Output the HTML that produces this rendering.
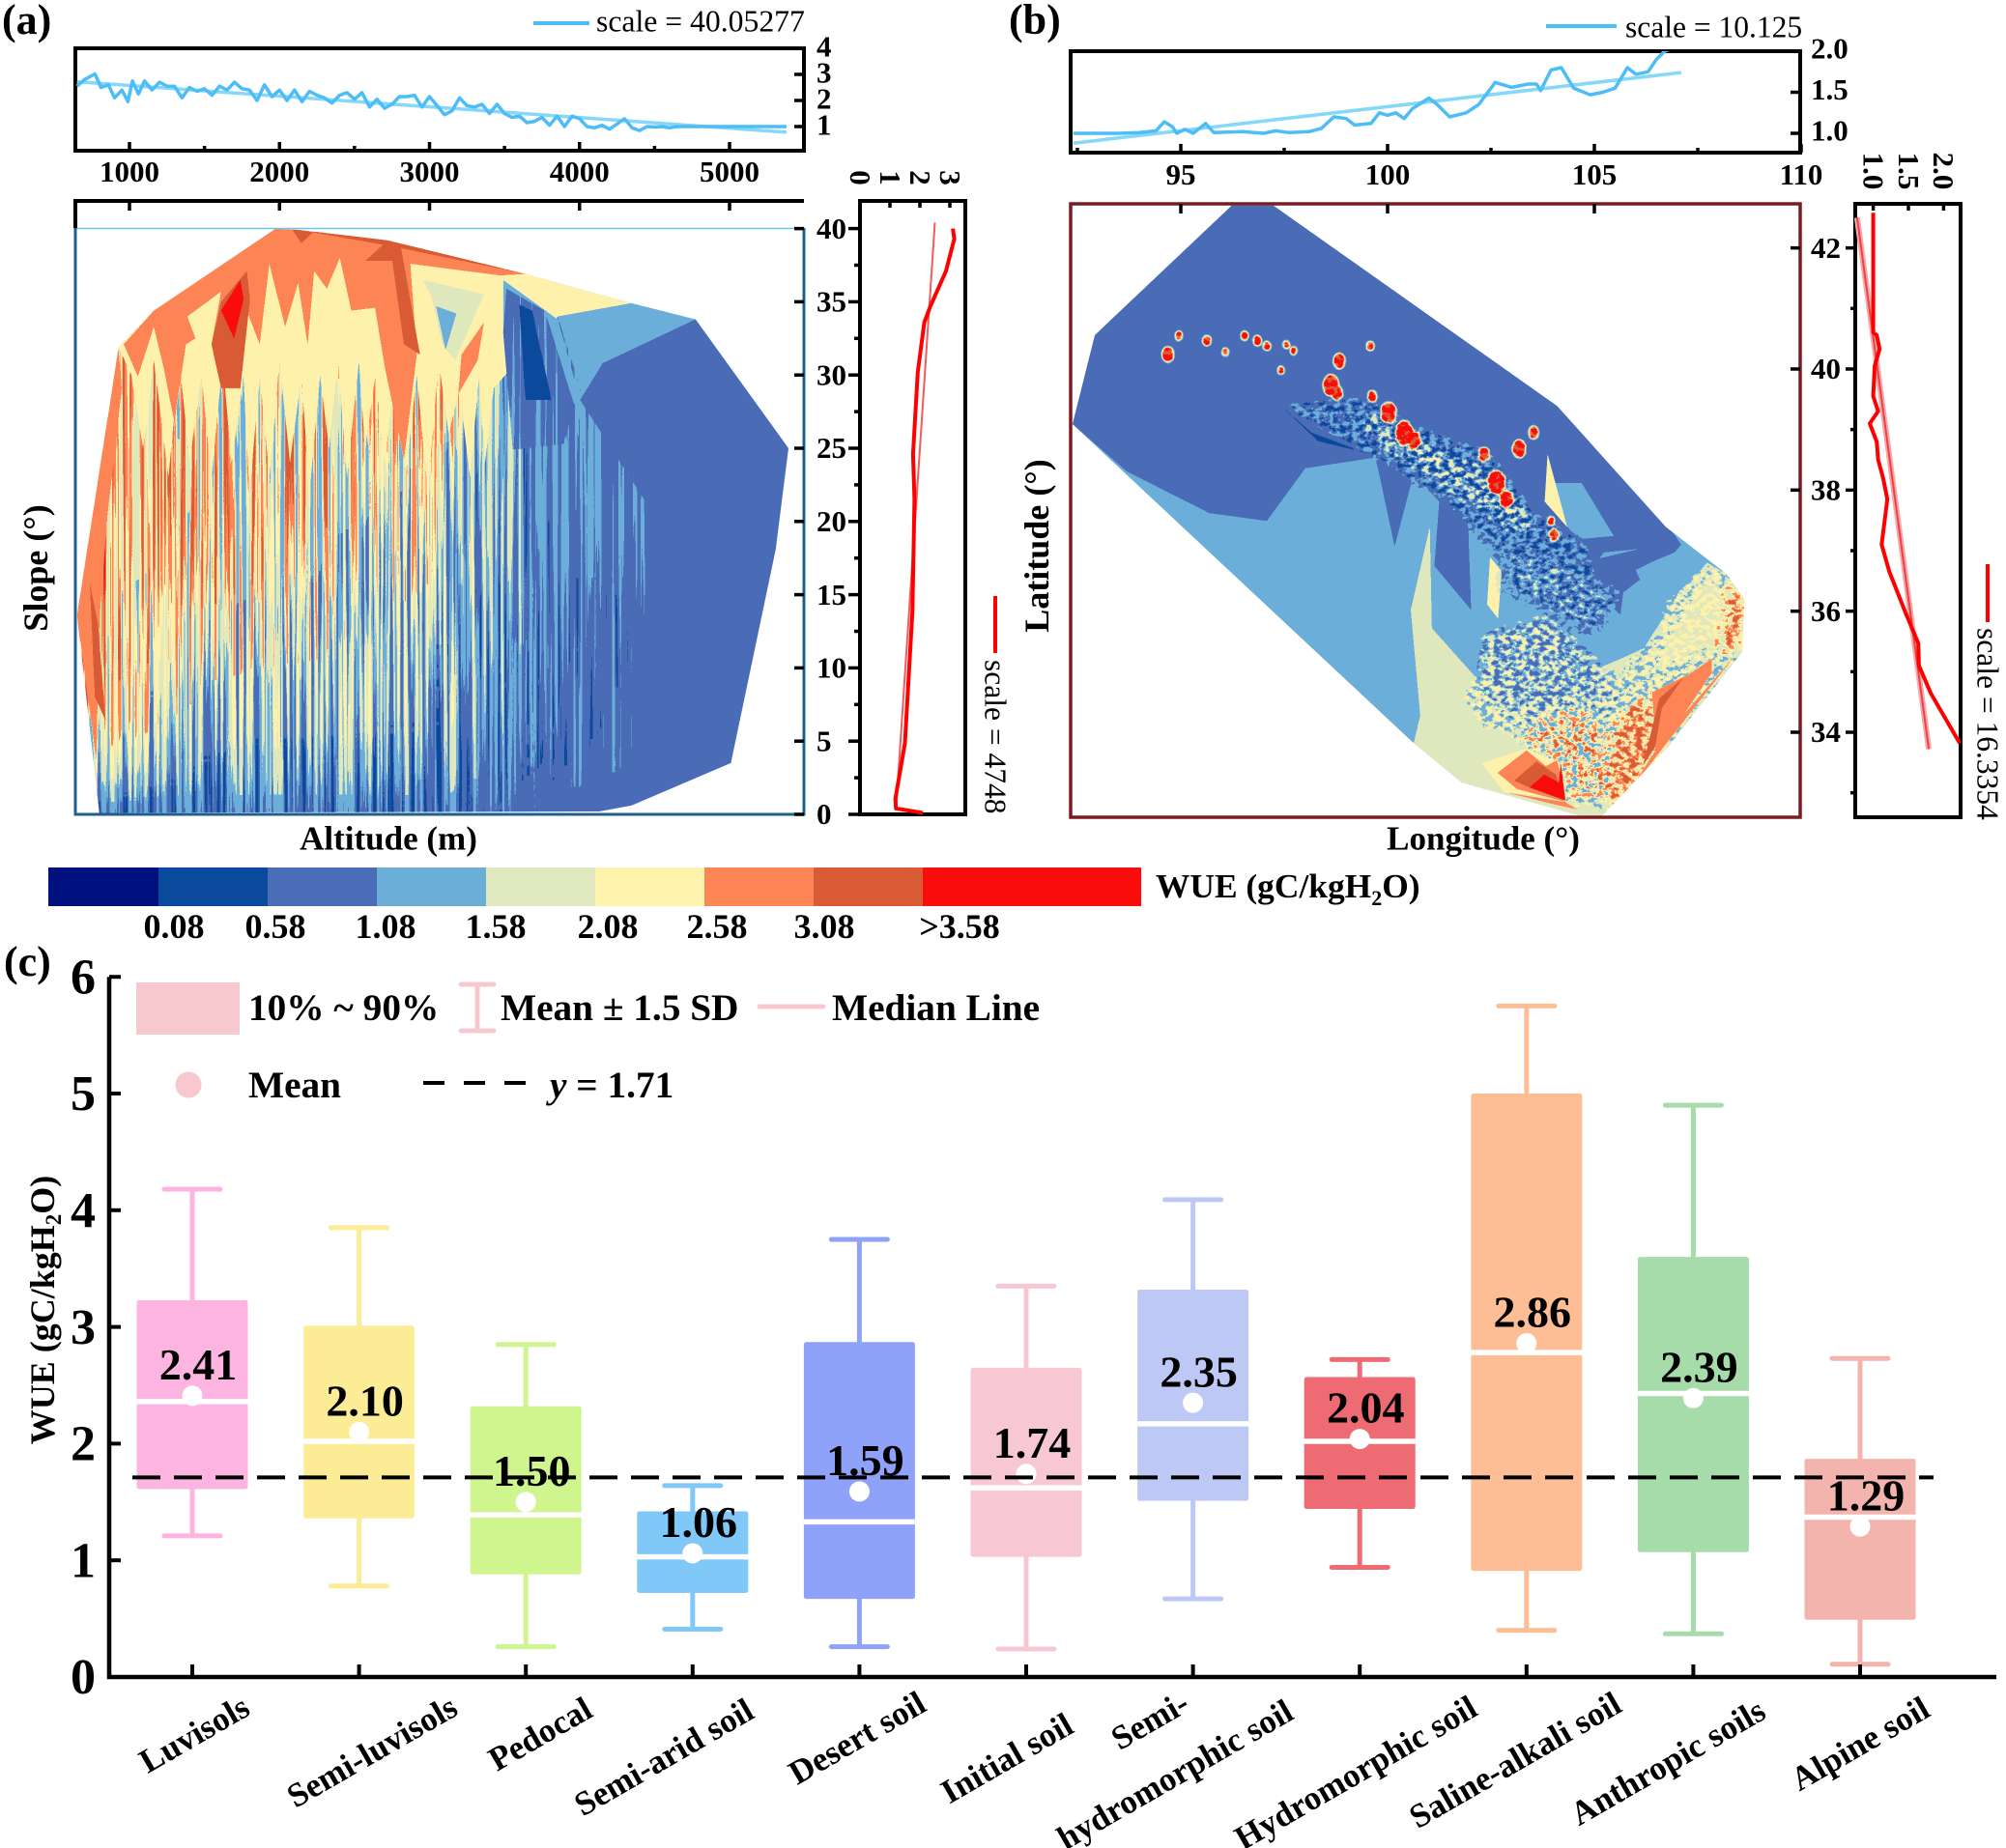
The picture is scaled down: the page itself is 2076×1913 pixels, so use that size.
<!DOCTYPE html>
<html>
<head>
<meta charset="utf-8">
<title>WUE charts</title>
<style>
html,body{margin:0;padding:0;background:#fff;}
svg{display:block;}
text{font-family:"Liberation Serif",serif;fill:#000;}
.b{font-weight:bold;}
</style>
</head>
<body>
<svg id="fig" xmlns="http://www.w3.org/2000/svg" width="2076" height="1913" viewBox="0 0 2076 1913">
<defs>
  <filter id="gridBlur" x="-5%" y="-5%" width="110%" height="110%" color-interpolation-filters="sRGB">
    <feGaussianBlur stdDeviation="14 18"/>
  </filter>
  <filter id="beltBlur" x="-5%" y="-5%" width="110%" height="110%" color-interpolation-filters="sRGB">
    <feGaussianBlur stdDeviation="6"/>
  </filter>
  <filter id="spotBlur" filterUnits="userSpaceOnUse" x="1108" y="211" width="755" height="635" color-interpolation-filters="sRGB">
    <feGaussianBlur stdDeviation="1.3"/>
  </filter>
  <filter id="contourA" filterUnits="userSpaceOnUse" x="78" y="208" width="754" height="636" color-interpolation-filters="sRGB">
    <feColorMatrix in="SourceGraphic" result="F" values="1 0 0 0 0 1 0 0 0 0 1 0 0 0 0 0 0 0 0 1"/>
    <feColorMatrix in="SourceGraphic" result="A" values="0 1 0 0 0 0 1 0 0 0 0 1 0 0 0 0 0 0 0 1"/>
    <feColorMatrix in="SourceGraphic" result="Y" values="0 -.25 0 0 1 0 -.25 0 0 1 0 -.25 0 0 1 0 0 0 0 1"/>
    <feTurbulence type="fractalNoise" baseFrequency="0.27 0.003" numOctaves="2" seed="7" result="T"/>
    <feColorMatrix in="T" result="N" values="3 0 0 0 -1 3 0 0 0 -1 3 0 0 0 -1 0 0 0 0 1"/>
    <feComposite in="A" in2="N" operator="arithmetic" k1="1" k2="0" k3="0" k4="0" result="X"/>
    <feComposite in="F" in2="X" operator="arithmetic" k1="0" k2=".5" k3=".5" k4="0" result="S"/>
    <feComposite in="S" in2="Y" operator="arithmetic" k1="0" k2="1" k3="1" k4="-.7778" result="W"/>
    <feComponentTransfer in="W">
      <feFuncR type="discrete" tableValues="0 0 0 0 0 .04 .294 .42 .878 .996 .996 .851 .973 .973 .973 .973 .973 .973"/>
      <feFuncG type="discrete" tableValues=".063 .063 .063 .063 .063 .29 .424 .686 .91 .949 .522 .357 .051 .051 .051 .051 .051 .051"/>
      <feFuncB type="discrete" tableValues=".486 .486 .486 .486 .486 .61 .718 .851 .741 .678 .337 .212 .047 .047 .047 .047 .047 .047"/>
    </feComponentTransfer>
  </filter>
  <filter id="contourB" filterUnits="userSpaceOnUse" x="1108" y="211" width="755" height="635" color-interpolation-filters="sRGB">
    <feColorMatrix in="SourceGraphic" result="F" values="1 0 0 0 0 1 0 0 0 0 1 0 0 0 0 0 0 0 0 1"/>
    <feColorMatrix in="SourceGraphic" result="A" values="0 1 0 0 0 0 1 0 0 0 0 1 0 0 0 0 0 0 0 1"/>
    <feColorMatrix in="SourceGraphic" result="Y" values="0 -.25 0 0 1 0 -.25 0 0 1 0 -.25 0 0 1 0 0 0 0 1"/>
    <feTurbulence type="fractalNoise" baseFrequency="0.15 0.19" numOctaves="3" seed="11" result="T"/>
    <feColorMatrix in="T" result="N" values="3 0 0 0 -1 3 0 0 0 -1 3 0 0 0 -1 0 0 0 0 1"/>
    <feComposite in="A" in2="N" operator="arithmetic" k1="1" k2="0" k3="0" k4="0" result="X"/>
    <feComposite in="F" in2="X" operator="arithmetic" k1="0" k2=".5" k3=".5" k4="0" result="S"/>
    <feComposite in="S" in2="Y" operator="arithmetic" k1="0" k2="1" k3="1" k4="-.7778" result="W"/>
    <feComponentTransfer in="W">
      <feFuncR type="discrete" tableValues="0 0 0 0 0 .04 .294 .42 .878 .996 .996 .851 .973 .973 .973 .973 .973 .973"/>
      <feFuncG type="discrete" tableValues=".063 .063 .063 .063 .063 .29 .424 .686 .91 .949 .522 .357 .051 .051 .051 .051 .051 .051"/>
      <feFuncB type="discrete" tableValues=".486 .486 .486 .486 .486 .61 .718 .851 .741 .678 .337 .212 .047 .047 .047 .047 .047 .047"/>
    </feComponentTransfer>
  </filter>
  <clipPath id="hullClipA"><polygon id="hullPolyA" points="0,0"/></clipPath>
  <clipPath id="hullClipB"><polygon id="hullPolyB" points="0,0"/></clipPath>
  <clipPath id="topClipA"><rect x="78" y="50" width="754" height="106"/></clipPath>
  <clipPath id="topClipB"><rect x="1108" y="53" width="755" height="105"/></clipPath>
</defs>

<!-- panel letters -->
<text class="b" x="2" y="35" font-size="44">(a)</text>
<text class="b" x="1044" y="35" font-size="44">(b)</text>
<text class="b" x="4" y="1010" font-size="44">(c)</text>

<!-- panel a -->
<g clip-path="url(#hullClipA)">
  <g id="fieldA" filter="url(#contourA)"></g>
</g>
<line x1="78" y1="236.5" x2="832" y2="236.5" stroke="#6cc6ea" stroke-width="1.5"/>
<path d="M78 236V843H832V236" fill="none" stroke="#1f5f8c" stroke-width="3"/>
<path d="M78 236V208H832" fill="none" stroke="#000" stroke-width="4"/>
<rect x="78" y="50" width="754" height="106" fill="none" stroke="#000" stroke-width="4"/>
<rect x="890" y="208" width="109" height="635" fill="none" stroke="#000" stroke-width="4"/>
<g id="panelA"></g>
<text class="b" x="402" y="868" dy=".33em" font-size="35" text-anchor="middle">Altitude (m)</text>
<text class="b" transform="translate(37,588) rotate(-90)" dy=".33em" font-size="36" text-anchor="middle">Slope (°)</text>
<line x1="552" y1="24" x2="610" y2="24" stroke="#4dbdf7" stroke-width="4"/>
<text x="617" y="22" dy=".33em" font-size="31.7">scale = 40.05277</text>
<line x1="1030" y1="617" x2="1030" y2="676" stroke="#f00" stroke-width="4"/>
<text transform="translate(1030,683) rotate(90)" dy=".33em" font-size="31.5">scale = 4748</text>

<!-- panel b -->
<g clip-path="url(#hullClipB)">
  <g id="fieldB" filter="url(#contourB)"></g>
</g>
<rect x="1108" y="211" width="755" height="635" fill="none" stroke="#7a1c22" stroke-width="3.5"/>
<rect x="1108" y="53" width="755" height="105" fill="none" stroke="#000" stroke-width="4"/>
<rect x="1920" y="211" width="109" height="635" fill="none" stroke="#000" stroke-width="4"/>
<g id="panelB"></g>
<text class="b" x="1535" y="868" dy=".33em" font-size="35" text-anchor="middle">Longitude (°)</text>
<text class="b" transform="translate(1073,565) rotate(-90)" dy=".33em" font-size="36" text-anchor="middle">Latitude (°)</text>
<line x1="1600" y1="27" x2="1673" y2="27" stroke="#4dbdf7" stroke-width="4"/>
<text x="1682" y="28" dy=".33em" font-size="31.5">scale = 10.125</text>
<line x1="2057" y1="584" x2="2057" y2="644" stroke="#f00" stroke-width="4"/>
<text transform="translate(2057,650) rotate(90)" dy=".33em" font-size="31.5">scale = 16.3354</text>

<!-- colour bar -->
<g>
  <rect x="50" y="898" width="114" height="40" fill="#00107c"/>
  <rect x="164" y="898" width="113" height="40" fill="#0a4a9c"/>
  <rect x="277" y="898" width="113" height="40" fill="#4b6cb7"/>
  <rect x="390" y="898" width="113" height="40" fill="#6bafd9"/>
  <rect x="503" y="898" width="113" height="40" fill="#e0e8bd"/>
  <rect x="616" y="898" width="113" height="40" fill="#fef2ad"/>
  <rect x="729" y="898" width="113" height="40" fill="#fe8556"/>
  <rect x="842" y="898" width="113" height="40" fill="#d95b36"/>
  <rect x="955" y="898" width="226" height="40" fill="#f80d0c"/>
  <g class="b" font-size="36" text-anchor="middle">
    <text class="b" x="180" y="959" dy=".33em">0.08</text>
    <text class="b" x="285" y="959" dy=".33em">0.58</text>
    <text class="b" x="399" y="959" dy=".33em">1.08</text>
    <text class="b" x="513" y="959" dy=".33em">1.58</text>
    <text class="b" x="629" y="959" dy=".33em">2.08</text>
    <text class="b" x="742" y="959" dy=".33em">2.58</text>
    <text class="b" x="853" y="959" dy=".33em">3.08</text>
    <text class="b" x="993" y="959" dy=".33em">&gt;3.58</text>
  </g>
  <text class="b" x="1196" y="929" font-size="35.4">WUE (gC/kgH<tspan font-size="22" dy="8">2</tspan><tspan dy="-8">O)</tspan></text>
</g>

<!-- panel c -->
<g id="panelC"></g>
<text class="b" transform="translate(56,1356) rotate(-90)" font-size="36" text-anchor="middle">WUE (gC/kgH<tspan font-size="23" dy="7">2</tspan><tspan dy="-7">O)</tspan></text>

<g>
  <rect x="141" y="1017" width="107" height="54" fill="#f8c8cf"/>
  <text class="b" x="257" y="1043" dy=".33em" font-size="39.3">10% ~ 90%</text>
  <path d="M494 1019V1067M477 1019H511M477 1067H511" stroke="#f8c8cf" stroke-width="5" fill="none" stroke-linecap="round"/>
  <text class="b" x="518" y="1043" dy=".33em" font-size="39.3">Mean ± 1.5 SD</text>
  <line x1="786" y1="1042" x2="852" y2="1042" stroke="#f8c8cf" stroke-width="5" stroke-linecap="round"/>
  <text class="b" x="861" y="1043" dy=".33em" font-size="39.3">Median Line</text>
  <circle cx="195" cy="1123" r="13.5" fill="#f8c8cf"/>
  <text class="b" x="257" y="1123" dy=".33em" font-size="39.3">Mean</text>
  <line x1="438" y1="1121" x2="546" y2="1121" stroke="#000" stroke-width="4" stroke-dasharray="22 20"/>
  <text class="b" x="569" y="1123" dy=".33em" font-size="39.3"><tspan font-style="italic">y</tspan> = 1.71</text>
</g>

<g font-size="35">
  <text class="b" transform="translate(201,1795) rotate(-30)" dy=".33em" text-anchor="middle">Luvisols</text>
  <text class="b" transform="translate(385,1813) rotate(-30)" dy=".33em" text-anchor="middle">Semi-luvisols</text>
  <text class="b" transform="translate(559,1795) rotate(-30)" dy=".33em" text-anchor="middle">Pedocal</text>
  <text class="b" transform="translate(687,1819) rotate(-30)" dy=".33em" text-anchor="middle">Semi-arid soil</text>
  <text class="b" transform="translate(887,1799) rotate(-30)" dy=".33em" text-anchor="middle">Desert soil</text>
  <text class="b" transform="translate(1042,1820) rotate(-30)" dy=".33em" text-anchor="middle">Initial soil</text>
  <text class="b" transform="translate(1190,1781) rotate(-30)" dy=".33em" text-anchor="middle">Semi-</text>
  <text class="b" transform="translate(1216,1837) rotate(-30)" dy=".33em" text-anchor="middle">hydromorphic soil</text>
  <text class="b" transform="translate(1403,1835) rotate(-30)" dy=".33em" text-anchor="middle">Hydromorphic soil</text>
  <text class="b" transform="translate(1568,1822) rotate(-30)" dy=".33em" text-anchor="middle">Saline-alkali soil</text>
  <text class="b" transform="translate(1726,1824) rotate(-30)" dy=".33em" text-anchor="middle">Anthropic soils</text>
  <text class="b" transform="translate(1925,1805) rotate(-30)" dy=".33em" text-anchor="middle">Alpine soil</text>
</g>

<script>
// ---------- panel (a) data ----------
const altitudeSeries = [650,700,770,810,860,900,950,990,1020,1060,1100,1150,1200,1250,1300,1350,1400,1450,1500,1550,1600,1650,1700,1750,1800,1850,1900,1950,2000,2050,2100,2150,2200,2250,2300,2350,2400,2450,2500,2550,2600,2650,2700,2750,2800,2850,2900,2950,3000,3050,3100,3150,3200,3250,3300,3350,3400,3450,3500,3550,3600,3650,3700,3750,3800,3850,3900,3950,4000,4050,4100,4150,4200,4250,4300,4350,4400,4450,4500,4550,4600,4650,4700,5380];
const altitudeWue = [2.55,2.8,3.02,2.5,2.6,2.1,2.4,1.95,2.75,2.25,2.75,2.4,2.7,2.55,2.55,2.1,2.5,2.35,2.45,2.2,2.55,2.4,2.7,2.45,2.4,2.0,2.6,2.15,2.4,2.0,2.4,1.95,2.35,2.2,2.1,1.9,2.2,2.3,2.05,2.3,1.75,2.05,1.7,1.85,2.15,2.15,2.2,1.75,2.15,1.8,1.45,1.6,2.1,1.8,1.75,1.85,1.5,1.85,1.5,1.35,1.4,1.15,1.2,1.35,1.05,1.4,1.0,1.4,1.3,1.0,.95,1.05,.9,1.1,1.3,.95,.85,1.0,.98,1.0,.95,1.0,1.0,1.0];
const altitudeTrendX = [650,5380];
const altitudeTrendY = [2.72,0.78];
const altitudeTicks = [1000,2000,3000,4000,5000];
const altitudeMinorTicks = [1500,2500,3500,4500];
const altitudeWueTicks = [1,2,3,4];
const slopeSeries = [0.1,0.4,1.06,4.85,13.9,21.5,24.6,30.2,33.6,34.7,37.1,39.3,40];
const slopeWue = [2.1,1.2,1.18,1.5,1.75,1.82,1.77,1.93,2.15,2.35,2.87,3.15,3.1];
const slopeTrendY = [0.3,40.4];
const slopeTrendX = [1.2,2.5];
const slopeTicks = [0,5,10,15,20,25,30,35,40];
const slopeMinorTicks = [2.5,7.5,12.5,17.5,22.5,27.5,32.5,37.5];
const slopeWueTicks = [0,1,2,3];

const hullA = [[1974,40],[2145,39.9],[2722,39.2],[3641,36.9],[4346,34.9],[4774,33.8],[5393,25],[5308,18.1],[5009,3.5],[4346,.6],[4132,.2],[799,.1],[650,13.6],[927,31.9],[1162,34.4]];
const gridAltitudes = [650,950,1250,1550,1850,2150,2450,2750,3050,3350,3650,3950,4250,4550];
const gridSlopes = [27.5,22.5,17.5,12.5,7.5,3.5,1,0];
const gridWue = [
 [2.6,2.6,2.5,2.5,2.4,2.5,2.3,2.2,2.3,1.4,1.1,1.05,.9,.83],
 [2.7,2.6,2.6,2.5,2.4,2.4,2.2,2.05,1.9,1.3,1.05,1.0,1.0,.83],
 [2.7,2.6,2.5,2.4,2.2,2.1,1.95,1.8,1.65,1.35,1.05,.95,.9,.83],
 [2.9,2.4,2.2,2.0,1.85,1.75,1.65,1.55,1.5,1.3,1.05,.9,.85,.83],
 [2.4,2.1,1.85,1.6,1.5,1.5,1.45,1.45,1.4,1.2,1.0,.85,.85,.83],
 [1.9,1.65,1.45,1.3,1.25,1.25,1.25,1.25,1.25,1.1,.95,.85,.85,.83],
 [1.15,1.05,1.0,1.0,1.0,1.0,1.0,1.0,1.05,.95,.9,.85,.83,.83],
 [.85,.85,.85,.85,.85,.85,.85,.85,.85,.85,.85,.83,.83,.83]
];
const gridColumnRoughness = [.42,.42,.42,.42,.42,.42,.42,.42,.42,.34,.22,.16,.14,.1];
const gridRowRoughness = [1,1,1,1,.9,.8,.6,.4];
const regionYellowCap = [[927,31.9],[1162,34.4],[1974,40],[3641,36.9],[4346,34.9],[3855,34],[3427,29.1],[3370,24],[3330,30],[3270,23],[3200,29],[3128,26],[3060,31],[2990,22],[2915,30],[2840,23],[2780,31],[2701,24],[2640,30],[2570,25],[2530,31],[2450,23],[2390,31],[2330,25],[2270,30],[2200,22],[2145,30],[2070,24],[2000,31],[1932,23],[1870,30],[1800,22],[1760,30],[1680,24],[1620,31],[1547,23],[1480,30],[1400,24],[1333,31],[1260,23],[1162,31],[1090,25],[1013,30]];
const regionOrangeCap = [[962,32.1],[1056,29.9],[1162,33.3],[1226,30.6],[1299,26.8],[1376,32.1],[1440,32.5],[1385,34],[1611,35.7],[1547,32.1],[1611,29.1],[1739,29.1],[1782,34.4],[1868,32.1],[1932,37.6],[2038,33.3],[2124,36.3],[2188,32.1],[2231,37.1],[2316,35.9],[2402,38],[2479,34.4],[2637,34.6],[2701,30.6],[2829,24.2],[2915,31.4],[2872,37.6],[3470,36.8],[3641,36.9],[2722,39.2],[2145,39.9],[1974,40],[1162,34.4]];
const regionLeftStrip = [[927,31.9],[650,13.6],[778,3.7],[790,12],[850,20],[949,29.1]];
const regionLeftDark = [[735,15.8],[790,13],[841,6.4],[770,8]];
const regionPaleTop = [[2957,36.5],[3363,35.5],[3171,31],[3085,32.1],[3009,35.5]];
const regionBlueTop = [[3043,34.7],[3179,34.2],[3107,31.7]];
const regionOrangeSpike = [[3214,31.4],[3363,33.6],[3321,31],[3192,28.7]];
const regionDarkA = [[1782,37.1],[1611,35],[1547,32.1],[1611,29.1],[1739,29.1],[1803,35.2]];
const regionRedA = [[1739,36.5],[1611,34.4],[1697,32.5],[1761,35.2]];
const regionDarkB = [[2573,37.8],[2701,39],[2808,38.8],[2936,31.4],[2829,32.1],[2752,37.8]];
const regionDarkTop = [[2081,40],[2145,39],[2231,39.8],[2722,39.2],[3641,36.9],[2744,38.8]];
const regionWedgeMargin = [[3491,36.5],[3855,33.8],[4004,28.3],[3962,28],[3769,34.4],[3513,35.9],[3491,32.9]];
const regionWedgeBlue = [[3513,35.9],[3769,34.4],[3962,28],[3897,25.3],[3556,24.9],[3491,32.9]];
const regionWedgeDark = [[3598,34.8],[3684,34.4],[3812,28.3],[3641,28.3]];
const regionPlateauLight = [[3855,34],[4346,34.9],[4774,33.8],[4154,30.8],[4026,28.5]];
const regionPlateauBlue = [[4774,33.8],[5393,25],[5308,18.1],[5009,3.5],[4346,.6],[4132,.2],[4453,2.6],[4432,21.5],[4004,28.3],[4154,30.8]];

// ---------- panel (b) data ----------
const longitudeSeries = [92.4,93.5,94,94.4,94.6,94.8,94.9,95.1,95.3,95.6,95.8,96.5,97,97.3,97.6,98.1,98.4,98.7,99,99.2,99.6,99.8,100,100.2,100.4,100.6,101,101.2,101.5,101.9,102.2,102.5,102.6,103,103.4,103.6,103.7,103.95,104.2,104.5,104.9,105.2,105.5,105.8,106,106.3,106.5,106.7,107];
const longitudeWue = [1.0,1.0,1.01,1.03,1.14,1.08,1.0,1.05,1.0,1.12,1.01,1.02,1.0,1.03,1.01,1.02,1.06,1.2,1.18,1.1,1.12,1.25,1.22,1.25,1.18,1.3,1.43,1.35,1.2,1.25,1.35,1.55,1.62,1.56,1.6,1.6,1.52,1.77,1.8,1.55,1.47,1.5,1.55,1.8,1.72,1.75,1.9,2.0,2.05];
const longitudeTrendX = [92.4,107.1];
const longitudeTrendY = [0.88,1.74];
const longitudeTicks = [95,100,105,110];
const longitudeMinorTicks = [92.5,97.5,102.5,107.5];
const longitudeWueTicks = [1.0,1.5,2.0];
const latitudeSeries = [42.58,40.6,40.56,40.33,40.05,39.55,39.3,39.1,38.8,38.5,38.2,37.85,37.1,36.65,36,35.47,35.1,34.64,34.18,33.82];
const latitudeWue = [1.0,1,1.05,1.09,1.02,1.0,1.07,.95,1.05,1.07,1.14,1.2,1.12,1.23,1.45,1.64,1.65,1.82,2.05,2.23];
const latitudeTrendY = [42.5,33.72];
const latitudeTrendX = [0.77,1.79];
const latitudeTicks = [34,36,38,40,42];
const latitudeWueTicks = [1.0,1.5,2.0];
const latitudeMinorTicks = [33,35,37,39,41];

const hullB = [[96.23,42.7],[97.24,42.7],[104.1,39.39],[106.73,37.39],[108.2,36.61],[108.63,36.2],[108.58,35.33],[106.8,33.77],[105.19,32.62],[104.65,32.62],[101.79,33.17],[100.63,33.82],[92.38,39.09],[92.92,40.56]];
const regionBlueB = [[92.38,39.09],[93.69,38.31],[95.69,37.62],[97.08,37.49],[98.01,38.36],[99.71,38.54],[100.17,37.07],[100.63,38.27],[101.25,37.81],[101.13,36.75],[102.02,36.02],[101.94,37.58],[103.1,36.94],[104.0,36.9],[104.6,36.55],[105.16,36.25],[105.63,35.94],[105.7,36.31],[106.1,36.52],[106.0,36.68],[106.48,36.84],[106.94,36.97],[107.1,37.1],[106.81,37.39],[104.1,39.39],[97.24,42.7],[96.23,42.7],[92.92,40.56]];
const regionDeepB = [[97.39,39.41],[98.16,38.95],[99.55,38.6],[98.32,38.81]];
const regionLightTriangle = [[103.91,38.12],[104.69,38.12],[105.47,37.24],[104.61,37.19],[104.3,37.43]];
const regionLightSliver = [[106.09,37.03],[105.12,36.87],[105.23,36.97]];
const regionWedge1 = [[100.56,36.02],[101.02,37.39],[101.07,35.72],[102.18,34.87],[101.56,34.46],[100.79,34.28]];
const regionWedge2 = [[102.48,36.89],[102.76,36.66],[102.67,35.88],[102.41,36.11]];
const regionWedge3 = [[103.87,38.59],[104.34,37.39],[103.8,37.81]];
const regionLowerPale = [[100.63,33.82],[101.79,33.17],[104.65,32.62],[105.19,32.62],[106.81,33.77],[108.58,35.33],[108.63,36.2],[108.2,36.61],[107.73,36.8],[106.96,36.2],[106.19,35.38],[104.65,34.92],[103.1,34.83],[102.18,34.87],[100.79,34.28]];
const beltRidge = [[97.39,39.41],[99.4,39.5],[100.63,39.05],[102.5,38.6],[103.5,37.6],[104.8,37.1],[105,36.5],[103.2,36.4],[102.8,36.84],[101.4,37.85],[99.4,38.68]];
const beltCrest = [[99.5,39.3],[100.6,38.9],[102.9,38],[103.6,37.5],[103.3,37.3],[102.5,37.6],[100.7,38.4],[99.7,38.9]];
const beltPatch = [[102.82,37.16],[105.7,36.31],[105,35.56],[102.74,36.36]];
const beltTransition = [[102.74,35.72],[103.83,35.88],[104.14,35.35],[105.39,34.82],[106.64,35.61],[106.8,36.15],[107.1,36.31],[107.73,36.73],[108.2,36.63],[108.66,36.15],[108.5,35.35],[105.86,33.04],[105.31,32.74],[104.3,32.9],[104.14,33.49],[103.2,33.86],[102.8,34.08],[102.43,34.08],[101.9,34.6],[102.36,35.24]];
const beltLightMix = [[102.3,35.6],[103.8,35.9],[104.9,35.3],[105.4,34.85],[104.2,34.4],[103,34.4],[102.2,35]];
const beltPale = [[106.17,34.82],[106.6,35.5],[107.1,36.15],[107.73,36.67],[108.34,36.36],[108.5,35.4],[107.73,35.25],[106.94,35.04]];
const beltRightEdge = [[108.22,36.31],[108.5,36.41],[108.66,36.15],[108.5,35.35],[108.04,35.4],[108.2,35.88]];
const beltHotMix = [[103.2,33.86],[104.14,34.4],[105.39,34.08],[105.16,33.6],[105.39,33.01],[104.45,32.85],[104.14,33.49]];
const beltOrangeMix = [[105.39,33.86],[105.78,34.39],[106.4,34.66],[106.48,33.7],[105.86,33.04],[105.31,32.74]];
const regionOrangeB = [[106.4,34.66],[107.34,34.98],[107.84,35.22],[107.84,34.98],[107.18,34.31],[108.46,35.32],[105.86,33.04],[106.48,33.7]];
const regionOrangeDarkB = [[106.57,34.56],[107.15,34.9],[106.63,34.4],[106.47,33.76],[106.17,33.44]];
const hotBaseB = [[102.27,33.49],[103.36,33.73],[104.14,33.49],[104.3,32.9],[102.82,33.01]];
const hotOrangeB = [[102.66,33.33],[103.36,33.7],[103.83,33.44],[104.1,33.54],[104.3,32.85],[103.13,33.06]];
const hotDarkB = [[103.06,33.2],[103.6,33.52],[104.07,33.3],[104.25,32.88],[103.52,33.06]];
const hotRedB = [[103.43,33.09],[103.79,33.3],[104.14,33.17],[104.19,33.49],[104.3,32.88]];
const hotStripB = [[102.82,33.01],[104.3,32.85],[104.6,32.72],[104.07,32.8]];
const hotSpotLon = [94.69,94.95,95.63,96.08,96.54,96.85,97.08,97.55,97.73,99.58,97.42,98.83,98.63,98.78,99.63,100.02,100.4,100.63,102.64,102.87,102.33,103.18,103.53,104.03,103.95];
const hotSpotLat = [40.24,40.55,40.47,40.28,40.55,40.47,40.38,40.4,40.3,40.38,39.98,40.13,39.73,39.6,39.55,39.28,38.95,38.82,38.13,37.85,38.59,38.68,38.95,37.26,37.49];
const hotSpotSpread = [.1,.05,.06,.04,.05,.06,.05,.04,.04,.05,.04,.1,.15,.09,.07,.15,.17,.12,.17,.12,.09,.12,.08,.07,.05];

// ---------- panel (c) data ----------
const soilTypes = ['Luvisols','Semi-luvisols','Pedocal','Semi-arid soil','Desert soil','Initial soil','Semi-hydromorphic soil','Hydromorphic soil','Saline-alkali soil','Anthropic soils','Alpine soil'];
const whiskerHigh = [4.18,3.85,2.85,1.64,3.75,3.35,4.09,2.72,5.75,4.90,2.73];
const boxTop = [3.23,3.01,2.32,1.42,2.87,2.65,3.32,2.57,5.0,3.60,1.87];
const medians = [2.36,2.02,1.39,1.03,1.33,1.62,2.17,2.02,2.78,2.43,1.37];
const means = [2.41,2.10,1.50,1.06,1.59,1.74,2.35,2.04,2.86,2.39,1.29];
const boxBottom = [1.61,1.36,.88,.72,.67,1.03,1.51,1.44,.91,1.07,.49];
const whiskerLow = [1.21,.78,.26,.41,.26,.24,.67,.94,.40,.37,.11];
const soilColors = ['#feb4e0','#fcec96','#cff58f','#7fc8f8','#8fa2fa','#f7c8d4','#bdc8f5','#ee6b73','#febe95','#a6dbaa','#f4b4ae'];
const referenceLine = [1.71];
const wueTicks = [0,1,2,3,4,5,6];

// ---------- axis functions ----------
const xA = a => 134 + (a - 1000) * 0.15525;
const yAtop = v => 131 - (v - 1) * 27;
const yA = s => 843 - s * 15.16;
const xAright = v => 890 + v * 31;
const xB = l => 1222 + (l - 95) * 42.8;
const yBtop = v => 138 - (v - 1) * 85;
const yB = l => 758 - (l - 34) * 62.67;
const xBright = v => 1938.6 + (v - 1) * 72.8;
const xC = i => 199 + i * 172.6;
const yC = v => 1736 - v * 120.8;

const NS = 'http://www.w3.org/2000/svg';
function add(parent, tag, attrs, text) {
  const el = document.createElementNS(NS, tag);
  for (const k in attrs) el.setAttribute(k, attrs[k]);
  if (text !== undefined) el.textContent = text;
  parent.appendChild(el);
  return el;
}
const pathOf = (xs, ys, fx, fy) => xs.map((x, i) => (i ? 'L' : 'M') + fx(x).toFixed(1) + ' ' + fy(ys[i]).toFixed(1)).join('');
const polyOf = (pts, fx, fy) => pts.map(p => fx(p[0]).toFixed(1) + ',' + fy(p[1]).toFixed(1)).join(' ');
function code(wue, rough) {
  const v = Math.max(0, Math.min(255, Math.round(255 * (wue + 0.42) / 4.5)));
  return 'rgb(' + v + ',' + Math.round(255 * rough) + ',0)';
}

// ---------- panel (a) contour ----------
document.getElementById('hullPolyA').setAttribute('points', polyOf(hullA, xA, yA));
const fieldA = document.getElementById('fieldA');
const baseA = add(fieldA, 'rect', {x: 70, y: 200, width: 770, height: 650, fill: code(.83, 0)});


const gridA = add(fieldA, 'g', {filter: 'url(#gridBlur)'});


gridSlopes.forEach((s, r) => {
  const yTop = r === 0 ? yA(36) : yA((gridSlopes[r - 1] + s) / 2);
  const yBot = r === gridSlopes.length - 1 ? yA(-3) : yA((gridSlopes[r + 1] + s) / 2);
  gridAltitudes.forEach((a, c) => {
    const step = 300;
    const cell = add(gridA, 'rect', {x: xA(a - step / 2), y: yTop, width: xA(a + step / 2) - xA(a - step / 2) + 1, height: yBot - yTop + 1, fill: code(gridWue[r][c], gridColumnRoughness[c] * gridRowRoughness[r])});
    
    
  });
});
[
 ['yellow-cap', regionYellowCap, 2.33, .03],
 ['orange-cap', regionOrangeCap, 2.83, 0],
 ['left-strip', regionLeftStrip, 2.83, .05],
 ['left-dark', regionLeftDark, 3.33, 0],
 ['pale-top', regionPaleTop, 1.83, 0],
 ['blue-top', regionBlueTop, 1.33, 0],
 ['orange-spike', regionOrangeSpike, 2.83, 0],
 ['dark-a', regionDarkA, 3.33, 0],
 ['red-a', regionRedA, 3.9, 0],
 ['dark-b', regionDarkB, 3.33, 0],
 ['dark-top', regionDarkTop, 3.33, 0],
 ['wedge-margin', regionWedgeMargin, 1.33, 0],
 ['wedge-blue', regionWedgeBlue, .83, .12],
 ['wedge-dark', regionWedgeDark, .33, 0],
 ['plateau-light', regionPlateauLight, 1.33, 0],
 ['plateau-blue', regionPlateauBlue, .83, 0]
].forEach(r => {
  const p = add(fieldA, 'polygon', {points: polyOf(r[1], xA, yA), fill: code(r[2], r[3])});
  
  
});

// ---------- panel (b) contour ----------
document.getElementById('hullPolyB').setAttribute('points', polyOf(hullB, xB, yB));
const fieldB = document.getElementById('fieldB');
const baseB = add(fieldB, 'rect', {x: 1100, y: 203, width: 770, height: 650, fill: code(1.33, 0)});


[
 ['blue', regionBlueB, .83, 0],
 ['deep', regionDeepB, .33, 0],
 ['light-triangle', regionLightTriangle, 1.33, 0],
 ['light-sliver', regionLightSliver, 1.33, 0],
 ['wedge-1', regionWedge1, 1.83, 0],
 ['wedge-2', regionWedge2, 2.33, 0],
 ['wedge-3', regionWedge3, 2.33, 0],
 ['lower-pale', regionLowerPale, 1.83, .06]
].forEach(r => {
  const p = add(fieldB, 'polygon', {points: polyOf(r[1], xB, yB), fill: code(r[2], r[3])});
  
  
});
const beltsB = add(fieldB, 'g', {filter: 'url(#beltBlur)'});


[
 ['ridge', beltRidge, .88, .28],
 ['crest', beltCrest, 1.2, .42],
 ['patch', beltPatch, 1.05, .25],
 ['transition', beltTransition, 1.75, .3],
 ['light-mix', beltLightMix, 1.42, .34],
 ['pale', beltPale, 2.05, .2],
 ['hot-mix', beltHotMix, 2.2, .42],
 ['orange-mix', beltOrangeMix, 2.8, .34],
 ['right-edge', beltRightEdge, 2.8, .3]
].forEach(r => {
  const p = add(beltsB, 'polygon', {points: polyOf(r[1], xB, yB), fill: code(r[2], r[3])});
  
  
});
[
 ['orange', regionOrangeB, 2.83, 0],
 ['orange-dark', regionOrangeDarkB, 3.33, 0],
 ['hot-base', hotBaseB, 2.33, 0],
 ['hot-orange', hotOrangeB, 2.83, 0],
 ['hot-dark', hotDarkB, 3.33, 0],
 ['hot-red', hotRedB, 3.9, 0],
 ['hot-strip', hotStripB, 2.83, 0]
].forEach(r => {
  const p = add(fieldB, 'polygon', {points: polyOf(r[1], xB, yB), fill: code(r[2], r[3])});
  
  
});
const spotsB = add(fieldB, 'g', {filter: 'url(#spotBlur)'});


hotSpotLon.forEach((lon, i) => {
  const e = add(spotsB, 'ellipse', {cx: xB(lon), cy: yB(hotSpotLat[i]), rx: hotSpotSpread[i] * 42.8 + 1.5, ry: hotSpotSpread[i] * 62.67 + 1.5, fill: code(4.08, .4)});
  
  
});

// ---------- generic ticks ----------
function tick(parent, x1, y1, x2, y2, name) {
  const t = add(parent, 'line', {x1, y1, x2, y2, stroke: '#000', 'stroke-width': 3.5});
  
  
  return t;
}
function label(parent, x, y, str, size, anchor, rotate, name) {
  const attrs = {'font-size': size, 'text-anchor': anchor, 'font-weight': 'bold', dy: '.33em'};
  if (rotate) attrs.transform = 'translate(' + x + ',' + y + ') rotate(' + rotate + ')';
  else { attrs.x = x; attrs.y = y; }
  const t = add(parent, 'text', attrs, str);
  
  
  return t;
}
function curve(parent, d, color, width, name, clip, opacity) {
  const attrs = {d, fill: 'none', stroke: color, 'stroke-width': width, 'stroke-linejoin': 'round'};
  if (clip) attrs['clip-path'] = clip;
  if (opacity) attrs.opacity = opacity;
  const p = add(parent, 'path', attrs);
  
  
  return p;
}

// ---------- panel (a) axes and lines ----------
const gA = document.getElementById('panelA');
altitudeTicks.forEach(a => {
  tick(gA, xA(a), 156, xA(a), 147, 'altitude-profile-x-tick');
  tick(gA, xA(a), 208, xA(a), 218, 'altitude-slope-top-tick');
  label(gA, xA(a), 178, String(a), 31, 'middle', 0, 'altitude-tick-label');
});
altitudeMinorTicks.forEach(a => tick(gA, xA(a), 156, xA(a), 151, 'altitude-profile-minor-tick'));
altitudeWueTicks.forEach(v => {
  tick(gA, 832, yAtop(v), 822, yAtop(v), 'altitude-profile-y-tick');
  label(gA, 845, yAtop(v) - 1.5, String(v), 31, 'start', 0, 'altitude-profile-y-label');
});
slopeTicks.forEach(s => {
  tick(gA, 832, yA(s), 822, yA(s), 'altitude-slope-y-tick');
  tick(gA, 890, yA(s), 878, yA(s), 'slope-profile-y-tick');
  label(gA, 845, yA(s), String(s), 31, 'start', 0, 'slope-tick-label');
});
slopeMinorTicks.forEach(s => tick(gA, 890, yA(s), 884, yA(s), 'slope-profile-minor-tick'));
slopeWueTicks.forEach(v => {
  tick(gA, xAright(v), 208, xAright(v), 215, 'slope-profile-x-tick');
  label(gA, xAright(v), 184, String(v), 31, 'middle', 90, 'slope-profile-x-label');
});
curve(gA, pathOf(altitudeTrendX, altitudeTrendY, xA, yAtop), '#86d8f8', 3.5, 'altitude-trend-line', 'url(#topClipA)');
curve(gA, pathOf(altitudeSeries, altitudeWue, xA, yAtop), '#4dbdf7', 3.5, 'altitude-wue-line', 'url(#topClipA)');
curve(gA, pathOf(slopeTrendX, slopeTrendY, xAright, yA), '#f55a5a', 2, 'slope-trend-line');
curve(gA, pathOf(slopeWue, slopeSeries, xAright, yA), '#f00', 4, 'slope-wue-line');

// ---------- panel (b) axes and lines ----------
const gB = document.getElementById('panelB');
longitudeTicks.forEach(l => {
  tick(gB, xB(l), 158, xB(l), 149, 'longitude-profile-x-tick');
  if (l < 110) tick(gB, xB(l), 211, xB(l), 221, 'longitude-latitude-top-tick');
  label(gB, xB(l), 181, String(l), 31, 'middle', 0, 'longitude-tick-label');
});
longitudeMinorTicks.forEach(l => tick(gB, xB(l), 158, xB(l), 153, 'longitude-profile-minor-tick'));
longitudeWueTicks.forEach(v => {
  tick(gB, 1863, yBtop(v), 1853, yBtop(v), 'longitude-profile-y-tick');
  label(gB, 1874, yBtop(v) - 2.5, v.toFixed(1), 31, 'start', 0, 'longitude-profile-y-label');
});
latitudeTicks.forEach(l => {
  tick(gB, 1863, yB(l), 1853, yB(l), 'longitude-latitude-y-tick');
  tick(gB, 1920, yB(l), 1910, yB(l), 'latitude-profile-y-tick');
  label(gB, 1874, yB(l), String(l), 31, 'start', 0, 'latitude-tick-label');
});
latitudeMinorTicks.forEach(l => tick(gB, 1920, yB(l), 1915, yB(l), 'latitude-profile-minor-tick'));
latitudeWueTicks.forEach(v => {
  tick(gB, xBright(v), 211, xBright(v), 218, 'latitude-profile-x-tick');
  label(gB, xBright(v), 177, v.toFixed(1), 31, 'middle', 90, 'latitude-profile-x-label');
});
curve(gB, pathOf(longitudeTrendX, longitudeTrendY, xB, yBtop), '#86d8f8', 3.5, 'longitude-trend-line', 'url(#topClipB)');
curve(gB, pathOf(longitudeSeries, longitudeWue, xB, yBtop), '#4dbdf7', 3.5, 'longitude-wue-line', 'url(#topClipB)');
curve(gB, pathOf(latitudeTrendX, latitudeTrendY, xBright, yB), '#f7a8ae', 6, 'latitude-trend-band');
curve(gB, pathOf(latitudeTrendX, latitudeTrendY, xBright, yB), '#f04040', 2, 'latitude-trend-line');
curve(gB, pathOf(latitudeWue, latitudeSeries, xBright, yB), '#f00', 4, 'latitude-wue-line');

// ---------- panel (c) boxplot ----------
const gC = document.getElementById('panelC');
const boxHalf = 57.5, capHalf = 29;
soilTypes.forEach((name, i) => {
  const c = soilColors[i], x = xC(i);
  const stem = add(gC, 'line', {x1: x, x2: x, y1: yC(whiskerHigh[i]), y2: yC(whiskerLow[i]), stroke: c, 'stroke-width': 5});
  
  
  [whiskerHigh[i], whiskerLow[i]].forEach(v => {
    const cap = add(gC, 'line', {x1: x - capHalf, x2: x + capHalf, y1: yC(v), y2: yC(v), stroke: c, 'stroke-width': 5, 'stroke-linecap': 'round'});
    
    
  });
  const box = add(gC, 'rect', {x: x - boxHalf, width: 2 * boxHalf, y: yC(boxTop[i]), height: yC(boxBottom[i]) - yC(boxTop[i]), rx: 2.5, fill: c});
  
  
  const med = add(gC, 'line', {x1: x - boxHalf, x2: x + boxHalf, y1: yC(medians[i]), y2: yC(medians[i]), stroke: '#fff', 'stroke-width': 5.5});
  
  
  const dot = add(gC, 'circle', {cx: x, cy: yC(means[i]), r: 10.5, fill: '#fff'});
  
  
});
const ref = add(gC, 'line', {x1: 137, x2: 2001, y1: yC(referenceLine[0]), y2: yC(referenceLine[0]), stroke: '#000', 'stroke-width': 4, 'stroke-dasharray': '29 14'});


soilTypes.forEach((name, i) => {
  label(gC, xC(i) + 6, yC(means[i]) - 32, means[i].toFixed(2), 46, 'middle', 0, 'mean-label-' + name);
  const t = add(gC, 'line', {x1: xC(i), x2: xC(i), y1: yC(0), y2: yC(0) - 13, stroke: '#000', 'stroke-width': 4});
  
  
});
const axisPath = add(gC, 'path', {d: 'M113 ' + yC(6) + 'V' + yC(0) + 'H2066', fill: 'none', stroke: '#000', 'stroke-width': 4.5});


wueTicks.forEach(v => {
  const t = add(gC, 'line', {x1: 113, x2: 125, y1: yC(v), y2: yC(v), stroke: '#000', 'stroke-width': 4});
  
  
  label(gC, 99, yC(v), String(v), 52, 'end', 0, 'y-tick-label');
});
</script>
</svg>
</body>
</html>
